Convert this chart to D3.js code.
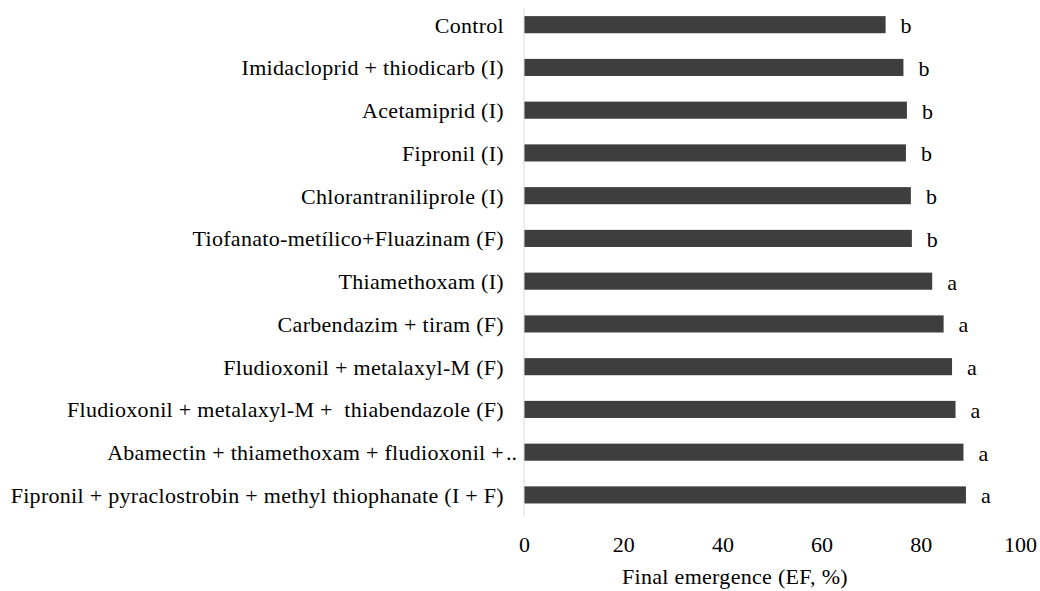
<!DOCTYPE html>
<html>
<head>
<meta charset="utf-8">
<script src="https://cdn.jsdelivr.net/npm/d3@7"></script>
<style>
  html, body { margin: 0; padding: 0; background: #fff; }
  svg { display: block; }
  svg text { font-family: "Liberation Serif", "Times New Roman", Tinos, serif; fill: #000; }
</style>
</head>
<body>
<svg id="chart" width="1040" height="591"></svg>
<script>
// Seed treatments (top to bottom)
const treatments = [
  "Control",
  "Imidacloprid + thiodicarb (I)",
  "Acetamiprid (I)",
  "Fipronil (I)",
  "Chlorantraniliprole (I)",
  "Tiofanato-metílico+Fluazinam (F)",
  "Thiamethoxam (I)",
  "Carbendazim + tiram (F)",
  "Fludioxonil + metalaxyl-M (F)",
  "Fludioxonil + metalaxyl-M +  thiabendazole (F)",
  "Abamectin + thiamethoxam + fludioxonil +\u2026",
  "Fipronil + pyraclostrobin + methyl thiophanate (I + F)"
];

// Final emergence (EF, %)
const emergence = [72.9, 76.5, 77.2, 77.0, 78.0, 78.2, 82.3, 84.6, 86.3, 87.0, 88.6, 89.1];

// Mean-separation letters
const groups = ["b", "b", "b", "b", "b", "b", "a", "a", "a", "a", "a", "a"];

const xTicks = [0, 20, 40, 60, 80, 100];
const xTitle = "Final emergence (EF, %)";

const svg = d3.select("#chart");
const FONT = 22;
const FAMILY = "'Liberation Serif', 'Times New Roman', Tinos, serif";

const x = d3.scaleLinear().domain([0, 100]).range([524, 1020]);
const y = d3.scaleBand().domain(treatments).range([3.3, 516.3])
  .paddingInner(0.6).paddingOuter(0.3);

const rows = treatments.map((t, i) => ({ t, v: emergence[i], g: groups[i] }));

// Bars
svg.append("g").selectAll("rect").data(rows).join("rect")
  .attr("x", x(0))
  .attr("y", d => y(d.t))
  .attr("width", d => x(d.v) - x(0))
  .attr("height", y.bandwidth())
  .attr("fill", "#3e3e3e");

// Vertical category axis line
svg.append("line")
  .attr("x1", x(0)).attr("x2", x(0))
  .attr("y1", 8).attr("y2", 516.5)
  .attr("stroke", "#d9d9d9").attr("stroke-width", 1);

// Category labels; a trailing ellipsis spills past the label edge
const labelX = 504;
const lab = svg.append("g").selectAll("g").data(rows).join("g");
lab.append("text")
  .attr("x", labelX)
  .attr("y", d => y(d.t) + y.bandwidth() / 2 + 8)
  .attr("text-anchor", "end")
  .attr("font-family", FAMILY)
  .attr("font-size", FONT)
  .attr("letter-spacing", 0.3)
  .style("white-space", "pre")
  .text(d => d.t.replace(/\u2026$/, ""));
lab.filter(d => /\u2026$/.test(d.t)).append("text")
  .attr("x", labelX + 2)
  .attr("y", d => y(d.t) + y.bandwidth() / 2 + 8)
  .attr("font-family", FAMILY)
  .attr("font-size", FONT)
  .text("..");

// Group letters after each bar
svg.append("g").selectAll("text").data(rows).join("text")
  .attr("x", d => x(d.v) + 15)
  .attr("y", d => y(d.t) + y.bandwidth() / 2 + 8.5)
  .attr("font-family", FAMILY)
  .attr("font-size", FONT)
  .text(d => d.g);

// Value axis tick labels (no axis line, no ticks)
const xAxis = svg.append("g")
  .attr("transform", "translate(0,537)")
  .call(d3.axisBottom(x).tickValues(xTicks).tickSize(0).tickPadding(0).tickFormat(d3.format("d")));
xAxis.select(".domain").remove();
xAxis.attr("font-family", FAMILY).attr("font-size", FONT);
xAxis.selectAll("text")
  .attr("fill", "#000")
  .attr("dy", null)
  .attr("y", 14.5);

// Axis title
svg.append("text")
  .attr("x", 735)
  .attr("y", 584)
  .attr("text-anchor", "middle")
  .attr("font-family", FAMILY)
  .attr("font-size", FONT)
  .attr("letter-spacing", 0.3)
  .text(xTitle);
</script>
</body>
</html>
